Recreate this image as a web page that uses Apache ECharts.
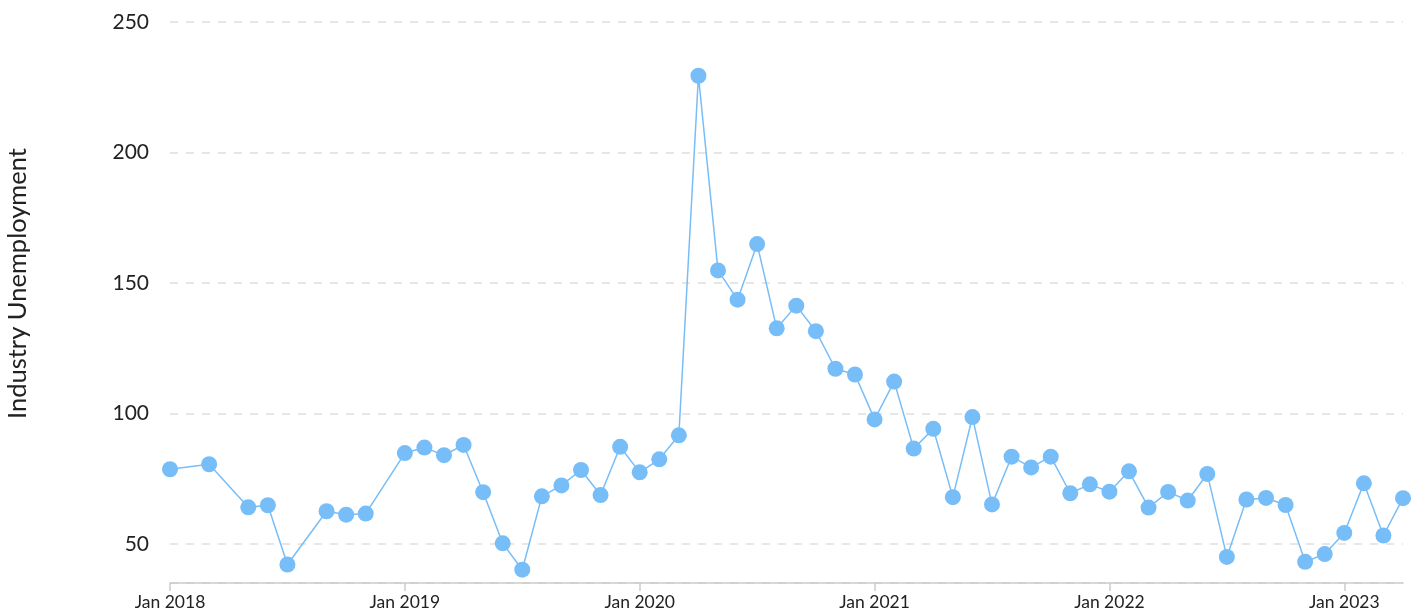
<!DOCTYPE html>
<html>
<head>
<meta charset="utf-8">
<script src="https://cdn.jsdelivr.net/npm/echarts@6/dist/echarts.min.js"></script>
<style>
  html, body { margin: 0; padding: 0; background: #fff; }
  #chart { width: 1419px; height: 613px; }
</style>
</head>
<body>
<div id="chart"></div>
<script>
// Monthly categories (Jan 2018 – Apr 2023)
const months = [
  'Jan 2018','Feb 2018','Mar 2018','Apr 2018','May 2018','Jun 2018','Jul 2018','Aug 2018','Sep 2018','Oct 2018','Nov 2018','Dec 2018',
  'Jan 2019','Feb 2019','Mar 2019','Apr 2019','May 2019','Jun 2019','Jul 2019','Aug 2019','Sep 2019','Oct 2019','Nov 2019','Dec 2019',
  'Jan 2020','Feb 2020','Mar 2020','Apr 2020','May 2020','Jun 2020','Jul 2020','Aug 2020','Sep 2020','Oct 2020','Nov 2020','Dec 2020',
  'Jan 2021','Feb 2021','Mar 2021','Apr 2021','May 2021','Jun 2021','Jul 2021','Aug 2021','Sep 2021','Oct 2021','Nov 2021','Dec 2021',
  'Jan 2022','Feb 2022','Mar 2022','Apr 2022','May 2022','Jun 2022','Jul 2022','Aug 2022','Sep 2022','Oct 2022','Nov 2022','Dec 2022',
  'Jan 2023','Feb 2023','Mar 2023','Apr 2023'
];

// Industry unemployment values (null = no observation that month)
const values2018 = [78.6, null, 80.5, null, 64.0, 64.8, 42.1, null, 62.5, 61.2, 61.6, null];
const values2019 = [84.8, 86.9, 84.0, 87.9, 69.8, 50.2, 40.1, 68.2, 72.4, 78.3, 68.7, 87.2];
const values2020 = [77.4, 82.4, 91.6, 229.4, 154.8, 143.6, 164.9, 132.6, 141.3, 131.5, 117.1, 114.9];
const values2021 = [97.7, 112.2, 86.5, 94.1, 67.9, 98.6, 65.1, 83.4, 79.3, 83.4, 69.4, 72.8];
const values2022 = [70.0, 77.8, 63.9, 69.9, 66.6, 76.8, 45.0, 67.0, 67.6, 64.9, 43.1, 46.1];
const values2023 = [54.2, 73.2, 53.2, 67.5];

const yTicks = [50, 100, 150, 200, 250];
const yName = 'Industry Unemployment';

const values = [].concat(values2018, values2019, values2020, values2021, values2022, values2023);

const FONT = 'Lato';
const lineColor = '#77bdf8';

const chart = echarts.init(document.getElementById('chart'), null, { renderer: 'canvas' });
chart.setOption({
  animation: false,
  grid: { left: 170, right: 16, top: 22, bottom: 30, containLabel: false, outerBoundsMode: 'none' },
  xAxis: {
    type: 'category',
    data: months,
    boundaryGap: false,
    axisLine: { show: true, lineStyle: { color: '#cccccc', width: 1.5 } },
    axisTick: {
      show: true, length: 8,
      lineStyle: { color: '#cccccc', width: 1.5 },
      interval: function (i) { return i % 12 === 0; }
    },
    axisLabel: {
      interval: function (i) { return i % 12 === 0; },
      color: '#222', fontFamily: FONT, fontSize: 17.5, margin: 10
    },
    splitLine: { show: false }
  },
  yAxis: {
    type: 'value',
    min: 35,
    max: yTicks[yTicks.length - 1],
    splitNumber: 4,
    name: yName,
    nameLocation: 'middle',
    nameRotate: 90,
    nameGap: 139,
    nameTextStyle: { color: '#222', fontFamily: FONT, fontSize: 25.5, padding: [0, 0, 0, 38] },
    axisLine: { show: false },
    axisTick: { show: false },
    axisLabel: {
      showMinLabel: false,
      color: '#222', fontFamily: FONT, fontSize: 21, margin: 21,
      formatter: function (v) { return yTicks.indexOf(v) >= 0 ? String(v) : ''; }
    },
    splitLine: { show: true, lineStyle: { color: '#dedede', width: 1.5, type: [8, 8] } }
  },
  series: [{
    type: 'line',
    data: values,
    connectNulls: true,
    showSymbol: true,
    showAllSymbol: true,
    symbol: 'circle',
    symbolSize: 16,
    itemStyle: { color: lineColor },
    lineStyle: { color: lineColor, width: 1.5 },
    z: 3
  }]
});
</script>
</body>
</html>
